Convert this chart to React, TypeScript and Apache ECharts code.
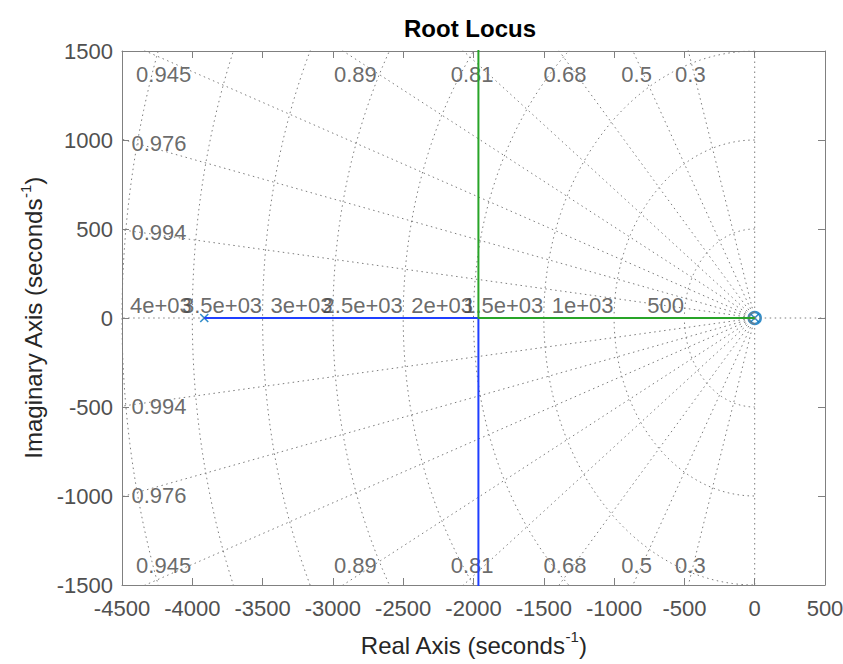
import { useEffect, useRef } from 'react';
import * as echarts from 'echarts';

// ---- axes ----
const X_MIN = -4500;
const X_MAX = 500;
const X_STEP = 500;
const Y_MIN = -1500;
const Y_MAX = 1500;
const Y_STEP = 500;

// ---- s-grid (damping ratio rays and natural frequency arcs) ----
const dampingRatios = [0.3, 0.5, 0.68, 0.81, 0.89, 0.945, 0.976, 0.994];
const dampingLabels = ['0.3', '0.5', '0.68', '0.81', '0.89', '0.945', '0.976', '0.994'];
const naturalFrequencies = [500, 1000, 1500, 2000, 2500, 3000, 3500, 4000, 4500];
const frequencyLabels = ['500', '1e+03', '1.5e+03', '2e+03', '2.5e+03', '3e+03', '3.5e+03', '4e+03'];

// ---- root locus ----
const poles = [[-3915, 0], [0, 0]];
const zeros = [[0, 0]];
const branchBlue = [[-3915, 0], [-1965, 0], [-1965, -3000]];
const branchGreen = [[0, 0], [-1965, 0], [-1965, 3000]];

const FONT = '"Liberation Sans", Arial, Helvetica, sans-serif';
const GRID_COLOR = '#7c7c7c';
const BOX_COLOR = '#808080';
const TICK_LABEL_COLOR = '#505050';
const GRID_LABEL_COLOR = '#444444';
const NAME_COLOR = '#262626';
const MARKER_COLOR = '#0072bd';

function buildOption() {
  const FAR = 20000;
  const gridSeries: any[] = [];
  const dotted = (data: number[][]) => ({
    type: 'line',
    data,
    symbol: 'none',
    silent: true,
    clip: true,
    lineStyle: { color: GRID_COLOR, width: 1, type: [1.5, 3.5] },
  });

  // natural frequency arcs (left half plane)
  naturalFrequencies.forEach((wn) => {
    const pts: number[][] = [];
    for (let d = 90; d <= 270; d += 1) {
      const a = (d * Math.PI) / 180;
      pts.push([wn * Math.cos(a), wn * Math.sin(a)]);
    }
    gridSeries.push(dotted(pts));
  });
  // damping ratio rays
  dampingRatios.forEach((z) => {
    const s = Math.sqrt(1 - z * z);
    gridSeries.push(dotted([[0, 0], [-FAR * z, FAR * s]]));
    gridSeries.push(dotted([[0, 0], [-FAR * z, -FAR * s]]));
  });
  // real and imaginary axes
  gridSeries.push(dotted([[0, 0], [-FAR, 0]]));
  gridSeries.push(dotted([[0, 0], [FAR, 0]]));
  gridSeries.push(dotted([[0, 0], [0, FAR]]));
  gridSeries.push(dotted([[0, 0], [0, -FAR]]));

  // grid labels
  const labelPts: any[] = [];
  dampingRatios.forEach((z, i) => {
    const t = Math.sqrt(1 - z * z) / z;
    const txt = dampingLabels[i];
    if (-X_MIN * t > Y_MAX) {
      const yA = Y_MAX * 0.97;
      const x = -yA / t;
      labelPts.push({ value: [x, yA], label: { formatter: txt, position: 'inside', offset: [0, 15] } });
      labelPts.push({ value: [x, -yA], label: { formatter: txt, position: 'inside', offset: [0, -11] } });
    } else {
      const xA = X_MIN + (X_MAX - X_MIN) * 0.0128;
      const y = -xA * t;
      labelPts.push({ value: [xA, y], label: { formatter: txt, position: 'right', distance: 0, offset: [0, 1.5] } });
      labelPts.push({ value: [xA, -y], label: { formatter: txt, position: 'right', distance: 0, offset: [0, 1.5] } });
    }
  });
  frequencyLabels.forEach((txt, i) => {
    labelPts.push({
      value: [-naturalFrequencies[i], 0],
      label: { formatter: txt, position: 'left', distance: 0, offset: [0, -13] },
    });
  });

  const xMark = 'path://M0 0L10 10M10 0L0 10';

  const series: any[] = [
    ...gridSeries,
    {
      type: 'line',
      data: branchBlue,
      symbol: 'none',
      silent: true,
      clip: true,
      lineStyle: { color: '#1f3fff', width: 2 },
    },
    {
      type: 'line',
      data: branchGreen,
      symbol: 'none',
      silent: true,
      clip: true,
      lineStyle: { color: '#28a428', width: 2 },
    },
    {
      type: 'scatter',
      data: labelPts,
      symbolSize: 1,
      silent: true,
      clip: false,
      itemStyle: { color: 'rgba(0,0,0,0)' },
      label: {
        show: true,
        fontSize: 22,
        fontFamily: FONT,
        color: GRID_LABEL_COLOR,
      },
    },
    {
      type: 'scatter',
      data: zeros,
      symbol: 'circle',
      symbolSize: 12,
      silent: true,
      itemStyle: { color: 'rgba(0,0,0,0)', borderColor: MARKER_COLOR, borderWidth: 2.5 },
    },
    {
      type: 'scatter',
      data: poles,
      symbol: xMark,
      symbolSize: 8,
      silent: true,
      itemStyle: { color: 'rgba(0,0,0,0)', borderColor: MARKER_COLOR, borderWidth: 1.6 },
    },
  ];

  const axisCommon = {
    type: 'value',
    axisLine: { show: true, onZero: false, lineStyle: { color: BOX_COLOR, width: 1 } },
    axisTick: { show: true, inside: true, length: 7, lineStyle: { color: BOX_COLOR, width: 1 } },
    splitLine: { show: false },
  };
  const tickLabel = {
    fontSize: 22,
    fontFamily: FONT,
    color: TICK_LABEL_COLOR,
    formatter: (v: number) => String(v),
  };
  const richName = {
    n: { fontSize: 24, fontFamily: FONT, color: NAME_COLOR, verticalAlign: 'bottom', lineHeight: 28 },
    s: { fontSize: 15, fontFamily: FONT, color: NAME_COLOR, verticalAlign: 'top', lineHeight: 15 },
  };

  return {
    animation: false,
    backgroundColor: '#ffffff',
    title: {
      text: 'Root Locus',
      left: 465,
      top: 11,
      textAlign: 'center',
      textStyle: { fontSize: 24, fontWeight: 'bold', fontFamily: FONT, color: '#000000' },
    },
    grid: { left: 122, top: 51, width: 703, height: 534, containLabel: false, outerBoundsMode: 'none' },
    xAxis: [
      {
        ...axisCommon,
        position: 'bottom',
        min: X_MIN,
        max: X_MAX,
        interval: X_STEP,
        axisLabel: { ...tickLabel, margin: 12 },
        name: '{n|Real Axis (seconds}{s|-1}{n|)}',
        nameLocation: 'middle',
        nameGap: 44,
        nameTextStyle: { rich: richName },
      },
      {
        ...axisCommon,
        position: 'top',
        min: X_MIN,
        max: X_MAX,
        interval: X_STEP,
        axisLabel: { show: false },
      },
    ],
    yAxis: [
      {
        ...axisCommon,
        position: 'left',
        min: Y_MIN,
        max: Y_MAX,
        interval: Y_STEP,
        axisLabel: { ...tickLabel, margin: 9 },
        name: '{n|Imaginary Axis (seconds}{s|-1}{n|)}',
        nameLocation: 'middle',
        nameRotate: 90,
        nameGap: 64,
        nameTextStyle: { rich: richName },
      },
      {
        ...axisCommon,
        position: 'right',
        min: Y_MIN,
        max: Y_MAX,
        interval: Y_STEP,
        axisLabel: { show: false },
      },
    ],
    series,
  };
}

export default function App() {
  const ref = useRef<HTMLDivElement>(null);
  useEffect(() => {
    if (!ref.current) return;
    const chart = echarts.init(ref.current, null, { renderer: 'svg' });
    chart.setOption(buildOption() as any);
    return () => chart.dispose();
  }, []);
  return (
    <div
      ref={ref}
      style={{ position: 'fixed', left: 0, top: 0, width: 843, height: 664, background: '#fff' }}
    />
  );
}
